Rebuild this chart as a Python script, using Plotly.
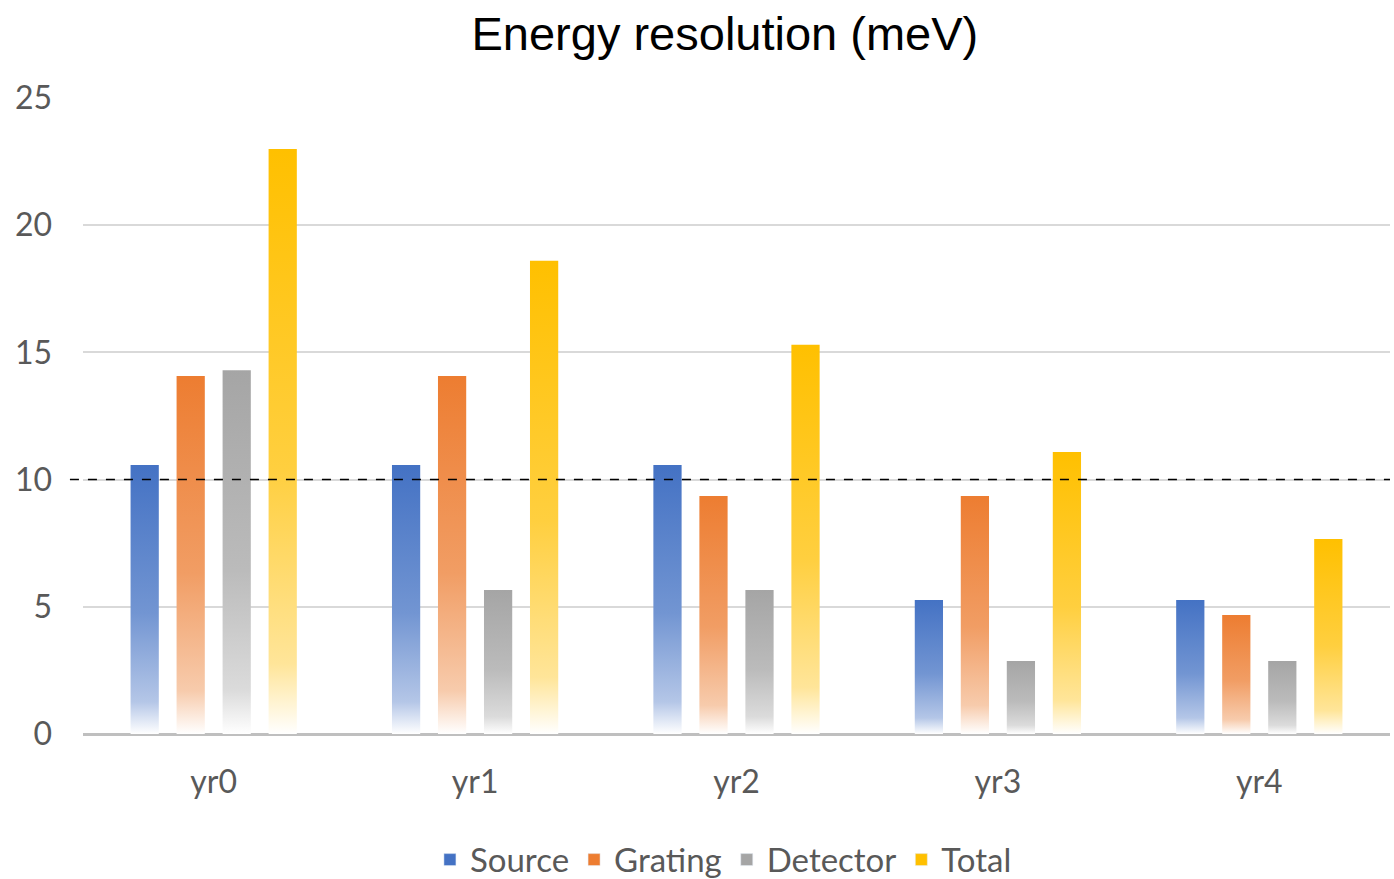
import plotly.graph_objects as go

# Energy resolution contributions per year (meV)
years = ["yr0", "yr1", "yr2", "yr3", "yr4"]
source = [10.57, 10.57, 10.57, 5.27, 5.27]
grating = [14.07, 14.07, 9.36, 9.36, 4.68]
detector = [14.3, 5.66, 5.66, 2.87, 2.87]
total = [23.0, 18.6, 15.3, 11.08, 7.67]
target = 10

series = [
    ("Source", source, (68, 114, 196)),
    ("Grating", grating, (237, 125, 49)),
    ("Detector", detector, (165, 165, 165)),
    ("Total", total, (255, 192, 0)),
]

step = 0.176   # spacing between bars within a group (category units)
half_w = 0.054  # half bar width

fig = go.Figure()

for k, (name, vals, (r, g, b)) in enumerate(series):
    col = f"rgb({r},{g},{b})"
    mid = f"rgb({int(r + (255 - r) * 0.25)},{int(g + (255 - g) * 0.25)},{int(b + (255 - b) * 0.25)})"
    low = f"rgb({int(r + (255 - r) * 0.6)},{int(g + (255 - g) * 0.6)},{int(b + (255 - b) * 0.6)})"
    scale = [[0, "rgb(255,255,255)"], [0.12, low], [0.45, mid], [1, col]]
    for i, v in enumerate(vals):
        xc = i + (k - 1.5) * step
        fig.add_trace(go.Scatter(
            x=[xc - half_w, xc + half_w, xc + half_w, xc - half_w, xc - half_w],
            y=[0, 0, v, v, 0],
            mode="lines", line=dict(width=0), fill="toself",
            fillgradient=dict(type="vertical", colorscale=scale),
            hoverinfo="skip", showlegend=False,
        ))
    # legend entry
    fig.add_trace(go.Bar(x=[None], y=[None], name=name, marker_color=col))

fig.add_shape(type="line", xref="paper", yref="y", x0=-0.01, x1=1, y0=target, y1=target,
              line=dict(color="black", width=1.5, dash="dash"))

fig.update_layout(
    width=1394, height=879,
    paper_bgcolor="white", plot_bgcolor="white",
    margin=dict(l=83, r=4, t=98, b=145, autoexpand=False),
    title=dict(text="Energy resolution (meV)", x=0.52, xanchor="center", y=0.962, yanchor="middle",
               font=dict(family="Liberation Sans, Arial", size=47, color="black")),
    font=dict(family="Lato, Open Sans", color="#595959", size=32),
    legend=dict(orientation="h", x=0.49, xanchor="center", yref="container", y=0.022, yanchor="middle",
                font=dict(size=33, color="#595959"), itemwidth=30, tracegroupgap=0),
    showlegend=True,
)
fig.update_xaxes(range=[-0.5, 4.5], tickvals=list(range(len(years))), ticktext=years,
                 showgrid=False, zeroline=False, showline=False, ticks="",
                 tickfont=dict(size=32, color="#595959"), ticklabelstandoff=26)
fig.update_yaxes(range=[0, 25], tickvals=[0, 5, 10, 15, 20, 25], showgrid=True,
                 gridcolor="#d9d9d9", gridwidth=2, zeroline=True, zerolinecolor="#bfbfbf",
                 zerolinewidth=3, ticks="", tickfont=dict(size=32, color="#595959"),
                 ticklabelstandoff=30)

fig.write_html("out.html")
